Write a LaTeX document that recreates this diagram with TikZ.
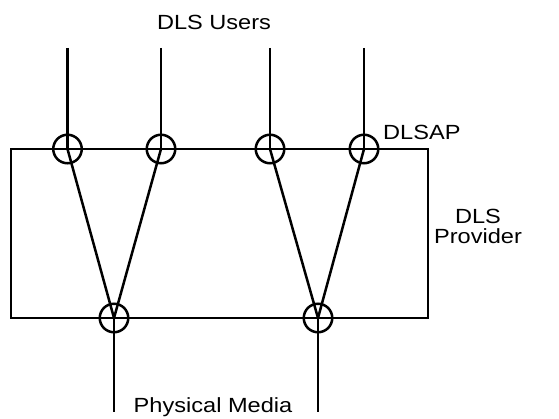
\documentclass[tikz,border=0pt]{standalone}
\usepackage{fontspec}
\setmainfont{Liberation Sans}[FakeStretch=1.15]
\begin{document}
\begin{tikzpicture}[x=1pt,y=-1pt,
  wire/.style={line width=2.5pt},
  sap/.style={circle,draw,line width=2.5pt,minimum size=28.5pt,inner sep=0pt},
  lbl/.style={font=\fontsize{20.5}{20}\selectfont,inner sep=0pt}]
\useasboundingbox (0,0) rectangle (559,419);
% provider box
\draw[wire] (11,149) rectangle (428,318);
% service access points
\node[sap] (u1) at (67.5,149) {};
\node[sap] (u2) at (161,149) {};
\node[sap] (u3) at (270,149) {};
\node[sap] (u4) at (364,149) {};
\node[sap] (p1) at (114,318) {};
\node[sap] (p2) at (318,318) {};
% free ends
\coordinate (t1) at (67.5,48);
\coordinate (t2) at (161,48);
\coordinate (t3) at (270,48);
\coordinate (t4) at (364,48);
\coordinate (b1) at (114,412);
\coordinate (b2) at (318,412);
\draw[wire] (t1) -- (u1.center);
\draw[wire] (t2) -- (u2.center);
\draw[wire] (t3) -- (u3.center);
\draw[wire] (t4) -- (u4.center);
\draw[wire] (u1.center) -- (p1.center) -- (u2.center);
\draw[wire] (u3.center) -- (p2.center) -- (u4.center);
\draw[wire] (p1.center) -- (b1);
\draw[wire] (p2.center) -- (b2);
% labels
\node[lbl] (users) at (214,22) {DLS Users};
\node[lbl,anchor=west] (dlsap) at (383,132) {DLSAP};
\node[lbl,align=center] (prov) at (478,226) {DLS\\Provider};
\node[lbl] (media) at (213,407) {Physical Media};
\end{tikzpicture}
\end{document}
